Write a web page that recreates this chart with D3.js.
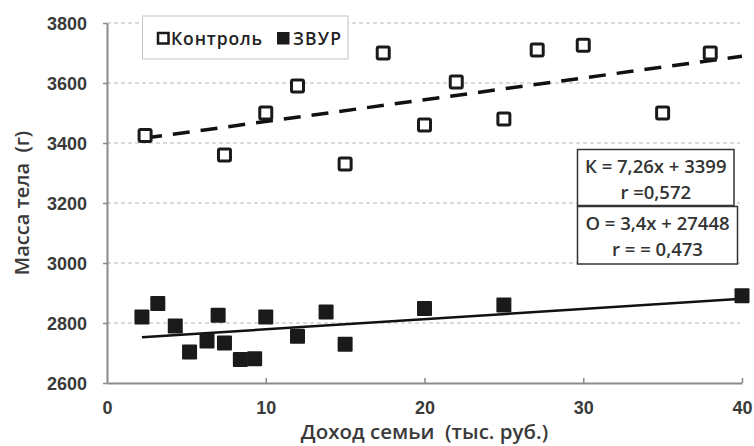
<!DOCTYPE html>
<html>
<head>
<meta charset="utf-8">
<script src="https://cdn.jsdelivr.net/npm/d3@7"></script>
<style>
  body { margin: 0; background: #fff; }
  svg { font-family: "Open Sans", sans-serif; }
</style>
</head>
<body>
<svg id="chart" width="754" height="446"></svg>
<script>
// data
var controlX = [2.4, 7.4, 10, 12, 15, 17.4, 20, 22, 25, 27.1, 30, 35, 38];
var controlY = [3425, 3360, 3500, 3590, 3330, 3700, 3460, 3603, 3480, 3710, 3726, 3500, 3700];
var zvurX = [2.2, 3.2, 4.3, 5.2, 6.3, 7.0, 7.4, 8.4, 9.3, 10, 12, 13.8, 15, 20, 25, 40];
var zvurY = [2820, 2865, 2790, 2703, 2740, 2826, 2733, 2678, 2681, 2820, 2756, 2837, 2729, 2848, 2860, 2891];
// trend lines: slope, intercept, x range
var controlTrend = { slope: 7.26, icpt: 3399, x0: 2.4, x1: 40 };
var zvurTrend = { slope: 3.4, icpt: 2744.8, x0: 2.2, x1: 40 };
var xTicks = [0, 10, 20, 30, 40];
var yTicks = [2600, 2800, 3000, 3200, 3400, 3600, 3800];
var legendNames = ["Контроль", "ЗВУР"];
var eqLines = [["К = 7,26x + 3399", "r =0,572"], ["О = 3,4x + 27448", "r = = 0,473"]];

var margin = {left: 107, right: 12, top: 23, bottom: 63};
var svg = d3.select("#chart");
var W = +svg.attr("width") - margin.left - margin.right;
var H = +svg.attr("height") - margin.top - margin.bottom;

var x = d3.scaleLinear().domain([0, 40]).range([0, W]);
var y = d3.scaleLinear().domain([2600, 3800]).range([H, 0]);

var g = svg.append("g").attr("transform", "translate(" + margin.left + "," + margin.top + ")");

// grid
g.selectAll(".grid").data(yTicks.slice(1)).enter().append("line")
  .attr("x1", 0).attr("x2", W - 2)
  .attr("y1", function(d) { return y(d); }).attr("y2", function(d) { return y(d); })
  .attr("stroke", "#b5b5b5").attr("stroke-width", 1).attr("stroke-dasharray", "4,3");

// axes
var xAxis = g.append("g").attr("transform", "translate(0," + H + ")")
  .call(d3.axisBottom(x).tickValues(xTicks).tickFormat(d3.format("d"))
    .tickSizeInner(-5).tickSizeOuter(0).tickPadding(18));
var yAxis = g.append("g")
  .call(d3.axisLeft(y).tickValues(yTicks).tickFormat(d3.format("d"))
    .tickSizeInner(4).tickSizeOuter(0).tickPadding(16));
[xAxis, yAxis].forEach(function(a) {
  a.select(".domain").attr("stroke", "#8a8a8a").attr("stroke-width", 2);
  a.selectAll(".tick line").attr("stroke", "#8a8a8a").attr("stroke-width", 1.5);
  a.selectAll(".tick text").attr("fill", "#3a3a3a")
    .style("font-size", "18px").style("font-weight", "600");
});
yAxis.selectAll(".tick text").attr("dy", "0.35em");
xAxis.selectAll(".tick").filter(function(d) { return d === 0; }).select("line").remove();

// trend lines
var line = d3.line().x(function(d) { return x(d[0]); }).y(function(d) { return y(d[1]); });
function trendPts(t) {
  return [[t.x0, t.slope * t.x0 + t.icpt], [t.x1, t.slope * t.x1 + t.icpt]];
}
g.append("path").datum(trendPts(controlTrend))
  .attr("d", line).attr("fill", "none").attr("stroke", "#111")
  .attr("stroke-width", 3.5).attr("stroke-dasharray", "17,11");
g.append("path").datum(trendPts(zvurTrend))
  .attr("d", line).attr("fill", "none").attr("stroke", "#111").attr("stroke-width", 2.5);

// markers
var controlData = controlX.map(function(v, i) { return [v, controlY[i]]; });
var zvurData = zvurX.map(function(v, i) { return [v, zvurY[i]]; });

g.selectAll(".ctrl").data(controlData).enter().append("rect")
  .attr("x", function(d) { return x(d[0]) - 6; })
  .attr("y", function(d) { return y(d[1]) - 6; })
  .attr("width", 12).attr("height", 12).attr("rx", 1.5)
  .attr("fill", "#fff").attr("stroke", "#1a1a1a").attr("stroke-width", 3);

g.selectAll(".zvur").data(zvurData).enter().append("rect")
  .attr("x", function(d) { return x(d[0]) - 7.5; })
  .attr("y", function(d) { return y(d[1]) - 7.5; })
  .attr("width", 15).attr("height", 15).attr("rx", 1)
  .attr("fill", "#1a1a1a");

// legend
var leg = svg.append("g");
leg.append("rect").attr("x", 142.5).attr("y", 16).attr("width", 205.5).attr("height", 43)
  .attr("fill", "#fff").attr("stroke", "#c4c4c4").attr("stroke-width", 1);
leg.append("rect").attr("x", 158).attr("y", 33).attr("width", 10.5).attr("height", 10.5)
  .attr("fill", "#fff").attr("stroke", "#1a1a1a").attr("stroke-width", 2.5);
leg.append("text").attr("x", 171).attr("y", 45).text(legendNames[0])
  .style("font-size", "17.5px").style("font-weight", "600").attr("fill", "#222")
  .attr("textLength", 91);
leg.append("rect").attr("x", 277).attr("y", 32).attr("width", 12.5).attr("height", 12.5)
  .attr("fill", "#1a1a1a");
leg.append("text").attr("x", 293).attr("y", 45).text(legendNames[1])
  .style("font-size", "17.5px").style("font-weight", "600").attr("fill", "#222")
  .attr("textLength", 48);

// equation boxes
var boxes = [{x: 577.5, y: 149.5, w: 156.5, h: 56}, {x: 577.5, y: 206.5, w: 160, h: 57.5}];
boxes.forEach(function(b, i) {
  svg.append("rect").attr("x", b.x).attr("y", b.y).attr("width", b.w).attr("height", b.h)
    .attr("fill", "#fff").attr("stroke", "#333").attr("stroke-width", 1.5);
  eqLines[i].forEach(function(t, j) {
    svg.append("text").attr("x", b.x + b.w / 2).attr("y", b.y + 23.5 + j * 25.5)
      .attr("text-anchor", "middle").text(t)
      .style("font-size", "18.5px").style("font-weight", "600").attr("fill", "#333");
  });
});

// axis titles
svg.append("text").attr("x", margin.left + W / 2).attr("y", 439)
  .attr("text-anchor", "middle").text("Доход семьи  (тыс. руб.)")
  .style("font-size", "20.5px").style("font-weight", "600").attr("fill", "#3a3a3a")
  .style("white-space", "pre");
svg.append("text").attr("transform", "translate(29," + (margin.top + H / 2) + ") rotate(-90)")
  .attr("text-anchor", "middle").text("Масса тела  (г)")
  .style("font-size", "20px").style("font-weight", "600").attr("fill", "#3a3a3a")
  .style("white-space", "pre");
</script>
</body>
</html>
